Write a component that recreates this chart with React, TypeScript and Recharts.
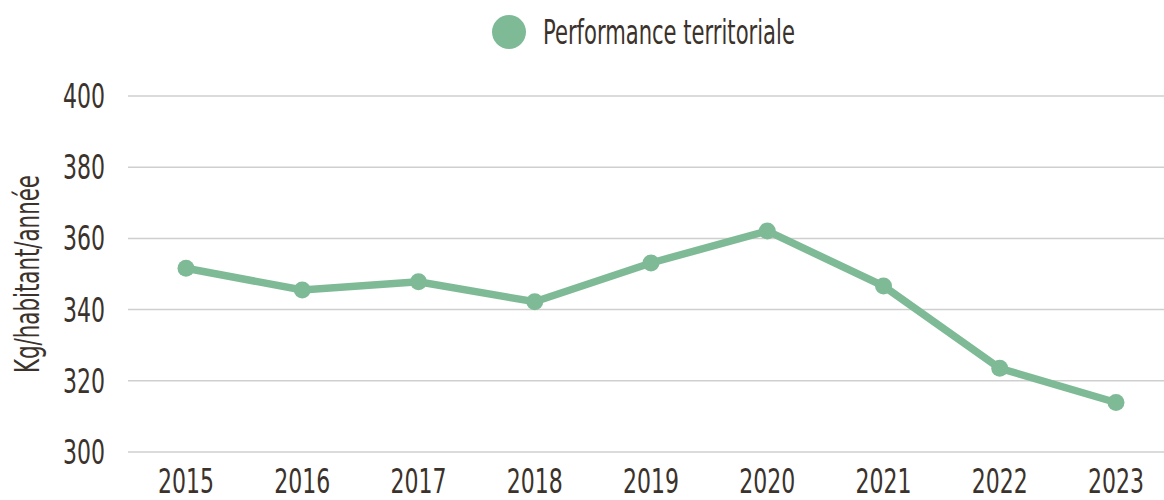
import React from 'react';
import { LineChart, Line, XAxis, YAxis, CartesianGrid, Legend } from 'recharts';

const years = ['2015', '2016', '2017', '2018', '2019', '2020', '2021', '2022', '2023'];
const performance = [351.6, 345.5, 347.8, 342.2, 353.1, 362.1, 346.6, 323.5, 313.9];
const yTicks = [300, 320, 340, 360, 380, 400];

const data = years.map((year, i) => ({ year, value: performance[i] }));

const FONT = '"DejaVu Sans Condensed", "DejaVu Sans", sans-serif';
const TEXT = '#3b322c';
const GREEN = '#7fba96';
const SQUEEZE = 0.72;

// narrow text, the reference uses a very condensed face
const XTick: React.FC<any> = ({ x, y, payload }) => (
  <text
    transform={`translate(${x},${y}) scale(${SQUEEZE},1)`}
    textAnchor="middle"
    dy="0.71em"
    fill={TEXT}
    fontSize={34}
    fontFamily={FONT}
    style={{ fontStretch: 'condensed' }}
  >
    {payload.value}
  </text>
);

const YTick: React.FC<any> = ({ x, y, payload }) => (
  <text
    transform={`translate(${x},${y}) scale(${SQUEEZE},1)`}
    textAnchor="end"
    dy="0.355em"
    fill={TEXT}
    fontSize={34}
    fontFamily={FONT}
    style={{ fontStretch: 'condensed' }}
  >
    {payload.value}
  </text>
);

const YLabel: React.FC<any> = ({ viewBox }) => {
  const cy = viewBox.y + viewBox.height / 2;
  return (
    <text
      transform={`translate(27,${cy}) rotate(-90) scale(${SQUEEZE},1)`}
      textAnchor="middle"
      dy="0.355em"
      fill={TEXT}
      fontSize={33}
      fontFamily={FONT}
      style={{ fontStretch: 'condensed' }}
    >
      Kg/habitant/année
    </text>
  );
};

const LegendContent: React.FC<any> = () => (
  <div style={{ display: 'flex', alignItems: 'center', paddingLeft: 491, fontFamily: FONT, fontStretch: 'condensed', color: TEXT, height: 36 }}>
    <svg width={36} height={36} style={{ marginRight: 16, flex: 'none' }}>
      <circle cx={18} cy={18} r={17} fill={GREEN} />
    </svg>
    <span style={{ fontSize: 34, display: 'inline-block', transform: 'scaleX(0.69)', transformOrigin: 'left center', whiteSpace: 'nowrap' }}>
      Performance territoriale
    </span>
  </div>
);

const App: React.FC = () => {
  return (
    <div style={{ position: 'absolute', left: 0, top: 0, width: 1164, height: 500, background: '#fff' }}>
      <LineChart width={1164} height={500} data={data} margin={{ top: 60, right: 0, left: 0, bottom: 0 }}>
        <CartesianGrid vertical={false} stroke="#cfcfcf" strokeWidth={1.5} />
        <XAxis
          dataKey="year"
          axisLine={false}
          tickLine={false}
          tickSize={0}
          tickMargin={17}
          height={48}
          padding={{ left: 58, right: 48 }}
          tick={<XTick />}
        />
        <YAxis
          domain={[300, 400]}
          ticks={yTicks}
          axisLine={false}
          tickLine={false}
          tickSize={0}
          tickMargin={23}
          width={128}
          tick={<YTick />}
          label={<YLabel />}
        />
        <Legend verticalAlign="top" content={<LegendContent />} wrapperStyle={{ top: 14, left: 0, width: 1164 }} />
        <Line
          type="linear"
          dataKey="value"
          name="Performance territoriale"
          stroke={GREEN}
          strokeWidth={7.5}
          dot={{ r: 8.5, fill: GREEN, stroke: GREEN, strokeWidth: 0 }}
          activeDot={false}
          isAnimationActive={false}
        />
      </LineChart>
    </div>
  );
};

export default App;
